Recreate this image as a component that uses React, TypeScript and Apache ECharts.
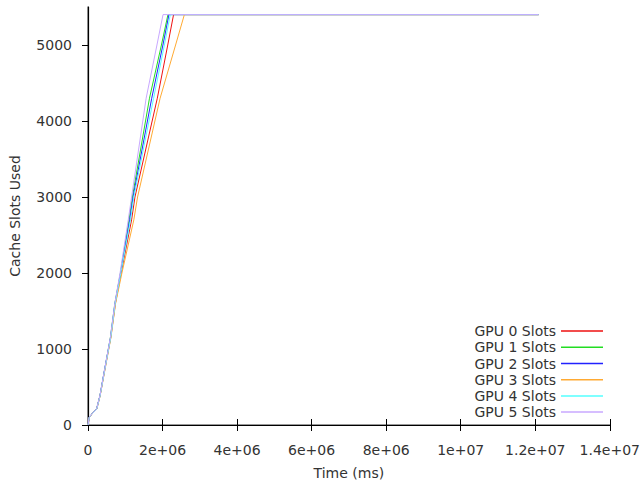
import React, { useEffect, useRef } from "react";
import * as echarts from "echarts";

// Shared slot levels (y values) at which each GPU's time was read
const slotLevels = [0, 100, 150, 210, 385, 740, 1150, 1600, 2000, 2700, 3000, 4300, 5000, 5400, 5400];

// Times (ms) for each GPU at the slot levels above
const gpu0Time = [0, 0.035e6, 0.115e6, 0.235e6, 0.325e6, 0.455e6, 0.61e6, 0.735e6, 0.89e6, 1.17e6, 1.26e6, 1.86e6, 2.14e6, 2.296e6, 12.09e6];
const gpu1Time = [0, 0.03e6, 0.11e6, 0.23e6, 0.32e6, 0.45e6, 0.6e6, 0.72e6, 0.87e6, 1.1e6, 1.19e6, 1.65e6, 1.97e6, 2.145e6, 12.09e6];
const gpu2Time = [0, 0.03e6, 0.11e6, 0.23e6, 0.32e6, 0.45e6, 0.605e6, 0.725e6, 0.875e6, 1.12e6, 1.21e6, 1.71e6, 2.01e6, 2.172e6, 12.09e6];
const gpu3Time = [0, 0.035e6, 0.115e6, 0.235e6, 0.325e6, 0.46e6, 0.615e6, 0.74e6, 0.91e6, 1.23e6, 1.33e6, 1.935e6, 2.35e6, 2.586e6, 12.09e6];
const gpu4Time = [0, 0.035e6, 0.115e6, 0.235e6, 0.325e6, 0.455e6, 0.61e6, 0.73e6, 0.88e6, 1.14e6, 1.23e6, 1.76e6, 2.05e6, 2.208e6, 12.09e6];
const gpu5Time = [0, 0.03e6, 0.11e6, 0.23e6, 0.32e6, 0.45e6, 0.6e6, 0.72e6, 0.86e6, 1.08e6, 1.17e6, 1.56e6, 1.85e6, 2.013e6, 12.09e6];

const seriesNames = ["GPU 0 Slots", "GPU 1 Slots", "GPU 2 Slots", "GPU 3 Slots", "GPU 4 Slots", "GPU 5 Slots"];
const seriesColors = ["#ee1111", "#22dd22", "#2222ff", "#ffaa33", "#55ffff", "#c8a8ff"];
const seriesTimes = [gpu0Time, gpu1Time, gpu2Time, gpu3Time, gpu4Time, gpu5Time];

const FONT = "DejaVu Sans";
const TEXT = "#333";
const FS = 14;

function fmtExp(v: number): string {
  if (v === 0) return "0";
  const e = Math.floor(Math.log10(v) + 1e-9);
  const m = Math.round((v / Math.pow(10, e)) * 100) / 100;
  return `${m}e+${String(e).padStart(2, "0")}`;
}

export default function App() {
  const ref = useRef<HTMLDivElement>(null);
  useEffect(() => {
    if (!ref.current) return;
    const chart = echarts.init(ref.current, null, { renderer: "svg" });
    const series = seriesNames.map((name, i) => ({
      name,
      type: "line",
      xAxisIndex: 0,
      yAxisIndex: 0,
      symbol: "none",
      showSymbol: false,
      color: seriesColors[i],
      lineStyle: { width: 1, color: seriesColors[i] },
      data: seriesTimes[i].map((t, j) => [t, slotLevels[j]]),
    }));
    chart.setOption({
      animation: false,
      backgroundColor: "#fff",
      textStyle: { fontFamily: FONT },
      grid: { left: 88, right: 23, top: 7, bottom: 59, containLabel: false },
      legend: {
        orient: "vertical",
        right: 35,
        top: 318,
        align: "right",
        icon: "rect",
        itemWidth: 42,
        itemHeight: 1.5,
        itemGap: 0,
        textStyle: { fontFamily: FONT, fontSize: FS, color: TEXT, lineHeight: 16.2 },
        data: seriesNames,
      },
      xAxis: [
        {
          type: "value",
          position: "bottom",
          min: 0,
          max: 14e6,
          interval: 2e6,
          name: "Time (ms)",
          nameLocation: "middle",
          nameGap: 41,
          nameTextStyle: { fontFamily: FONT, fontSize: FS, color: TEXT },
          axisLine: { show: true, lineStyle: { color: "#777", width: 1.5 } },
          axisTick: { show: true, inside: false, length: 6, lineStyle: { color: "#000" } },
          axisLabel: { formatter: fmtExp, fontFamily: FONT, fontSize: FS, color: TEXT, margin: 18 },
          splitLine: { show: false },
        },
        {
          type: "value",
          position: "top",
          min: 0,
          max: 14e6,
          interval: 2e6,
          axisLine: { show: true, lineStyle: { color: "#000", width: 1.2 } },
          axisTick: { show: true, inside: false, length: 6, lineStyle: { color: "#000" } },
          axisLabel: { show: false },
          splitLine: { show: false },
        },
      ],
      yAxis: [
        {
          type: "value",
          position: "left",
          min: 0,
          max: 5500,
          interval: 1000,
          name: "Cache Slots Used",
          nameLocation: "middle",
          nameGap: 66,
          nameTextStyle: { fontFamily: FONT, fontSize: FS, color: TEXT },
          axisLine: { show: true, lineStyle: { color: "#777", width: 1.5 } },
          axisTick: { show: true, inside: false, length: 6, lineStyle: { color: "#000" } },
          axisLabel: {
            formatter: (v: number) => String(v),
            fontFamily: FONT,
            fontSize: FS,
            color: TEXT,
            margin: 16,
            showMaxLabel: false,
          },
          splitLine: { show: false },
        },
        {
          type: "value",
          position: "right",
          min: 0,
          max: 5500,
          interval: 1000,
          axisLine: { show: true, lineStyle: { color: "#000", width: 1.2 } },
          axisTick: { show: false },
          axisLabel: { show: false },
          splitLine: { show: false },
        },
      ],
      series,
    });
    return () => chart.dispose();
  }, []);
  return (
    <div
      ref={ref}
      style={{ position: "fixed", left: 0, top: 0, width: 643, height: 485 }}
    />
  );
}
